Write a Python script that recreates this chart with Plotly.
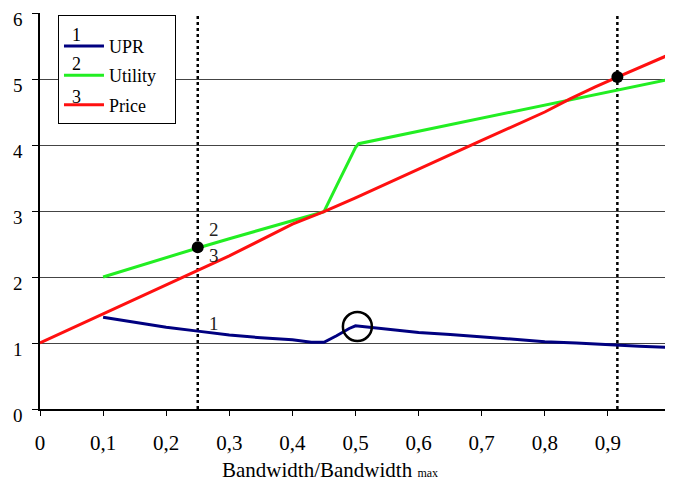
import plotly.graph_objects as go

# ---- data ----
upr_x = [0.10, 0.15, 0.20, 0.25, 0.30, 0.35, 0.40, 0.43, 0.45, 0.47, 0.49, 0.50, 0.52, 0.55, 0.60, 0.65, 0.70, 0.75, 0.80, 0.85, 0.90, 0.95, 1.00]
upr_y = [1.39, 1.31, 1.24, 1.18, 1.12, 1.08, 1.05, 1.01, 1.01, 1.11, 1.22, 1.26, 1.24, 1.21, 1.16, 1.13, 1.09, 1.06, 1.02, 1.00, 0.97, 0.95, 0.93]

util_x = [0.10, 0.15, 0.20, 0.25, 0.30, 0.35, 0.40, 0.45, 0.47, 0.49, 0.50, 0.505, 0.52, 0.60, 0.70, 0.80, 0.90, 1.00]
util_y = [2.00, 2.15, 2.30, 2.44, 2.58, 2.72, 2.86, 2.99, 3.38, 3.77, 3.96, 4.02, 4.05, 4.20, 4.40, 4.60, 4.80, 5.00]

price_x = [0.0, 0.1, 0.2, 0.3, 0.4, 0.45, 0.5, 0.6, 0.7, 0.8, 0.84, 0.88, 0.915, 1.0]
price_y = [1.00, 1.44, 1.88, 2.32, 2.80, 2.99, 3.20, 3.64, 4.07, 4.50, 4.70, 4.88, 5.03, 5.38]

vline_x = [0.25, 0.915]
dot_x = [0.25, 0.915]
dot_y = [2.45, 5.03]
circle_x = [0.503]
circle_y = [1.25]

x_ticks = [0, 0.1, 0.2, 0.3, 0.4, 0.5, 0.6, 0.7, 0.8, 0.9, 1.0]
x_ticktext = ["0", "0,1", "0,2", "0,3", "0,4", "0,5", "0,6", "0,7", "0,8", "0,9", "1"]
y_ticks = [0, 1, 2, 3, 4, 5, 6]

FONT = "Liberation Serif, Times New Roman, serif"

fig = go.Figure()

for vx in vline_x:
    fig.add_trace(go.Scatter(x=[vx, vx], y=[0, 6], mode="lines",
                             line=dict(color="black", width=2.5, dash="3px,3px"),
                             showlegend=False, hoverinfo="skip"))

fig.add_trace(go.Scatter(x=upr_x, y=upr_y, mode="lines", name="UPR",
                         line=dict(color="#000080", width=3), legendgroup="a"))
fig.add_trace(go.Scatter(x=util_x, y=util_y, mode="lines", name="Utility&nbsp;&nbsp;&nbsp;",
                         line=dict(color="#22ee22", width=3), legendgroup="b"))
fig.add_trace(go.Scatter(x=price_x, y=price_y, mode="lines", name="Price",
                         line=dict(color="#ff1010", width=3), legendgroup="c"))

fig.add_trace(go.Scatter(x=dot_x, y=dot_y, mode="markers",
                         marker=dict(color="black", size=12), showlegend=False))
fig.add_trace(go.Scatter(x=circle_x, y=circle_y, mode="markers",
                         marker=dict(color="rgba(0,0,0,0)", size=29,
                                     line=dict(color="black", width=2.5)),
                         showlegend=False))

# curve labels
for txt, yy in [("1", 1.29), ("2", 2.72), ("3", 2.32)]:
    fig.add_annotation(x=0.275, y=yy, text=txt, showarrow=False, yanchor="middle",
                       font=dict(family=FONT, size=19, color="#222"))

# legend numbers above sample lines
for txt, yy in [("1", 0.9444), ("2", 0.8705), ("3", 0.7886)]:
    fig.add_annotation(x=0.0586, y=yy, xref="paper", yref="paper", text=txt,
                       showarrow=False, yanchor="middle", xanchor="center",
                       font=dict(family=FONT, size=18, color="black"))

# x axis title
fig.add_annotation(x=0.4596, y=-0.154, xref="paper", yref="paper", yanchor="middle",
                   text='Bandwidth/Bandwidth <span style="font-size:12px">max</span>',
                   showarrow=False, font=dict(family=FONT, size=21, color="black"))

fig.update_layout(
    width=665, height=479,
    margin=dict(l=32, r=2, t=5, b=78, autoexpand=False),
    plot_bgcolor="white", paper_bgcolor="white",
    font=dict(family=FONT, size=20, color="black"),
    legend=dict(x=0.0285, y=0.995, xanchor="left", yanchor="top",
                bordercolor="black", borderwidth=1, bgcolor="white",
                traceorder="grouped", tracegroupgap=3, itemwidth=40,
                title=dict(text="&nbsp;", font=dict(size=9)),
                font=dict(family=FONT, size=18, color="black")),
    xaxis=dict(range=[0, 1], tickvals=x_ticks, ticktext=x_ticktext, automargin=False,
               showgrid=False, zeroline=False, showline=True, linecolor="black", linewidth=1.5,
               ticks="outside", ticklen=5, tickcolor="black", tickwidth=1.2,
               ticklabelstandoff=9, ticklabeloverflow="allow",
               tickfont=dict(family=FONT, size=21)),
    yaxis=dict(range=[0, 6], tickvals=y_ticks, automargin=False,
               showgrid=True, gridcolor="#444", gridwidth=1.3, zeroline=False,
               showline=True, linecolor="black", linewidth=1.5,
               ticks="outside", ticklen=6, tickcolor="black", tickwidth=1.2,
               ticklabelstandoff=6, ticklabelshift=6, ticklabeloverflow="allow",
               tickfont=dict(family=FONT, size=19)),
)

fig.write_html("out.html")
